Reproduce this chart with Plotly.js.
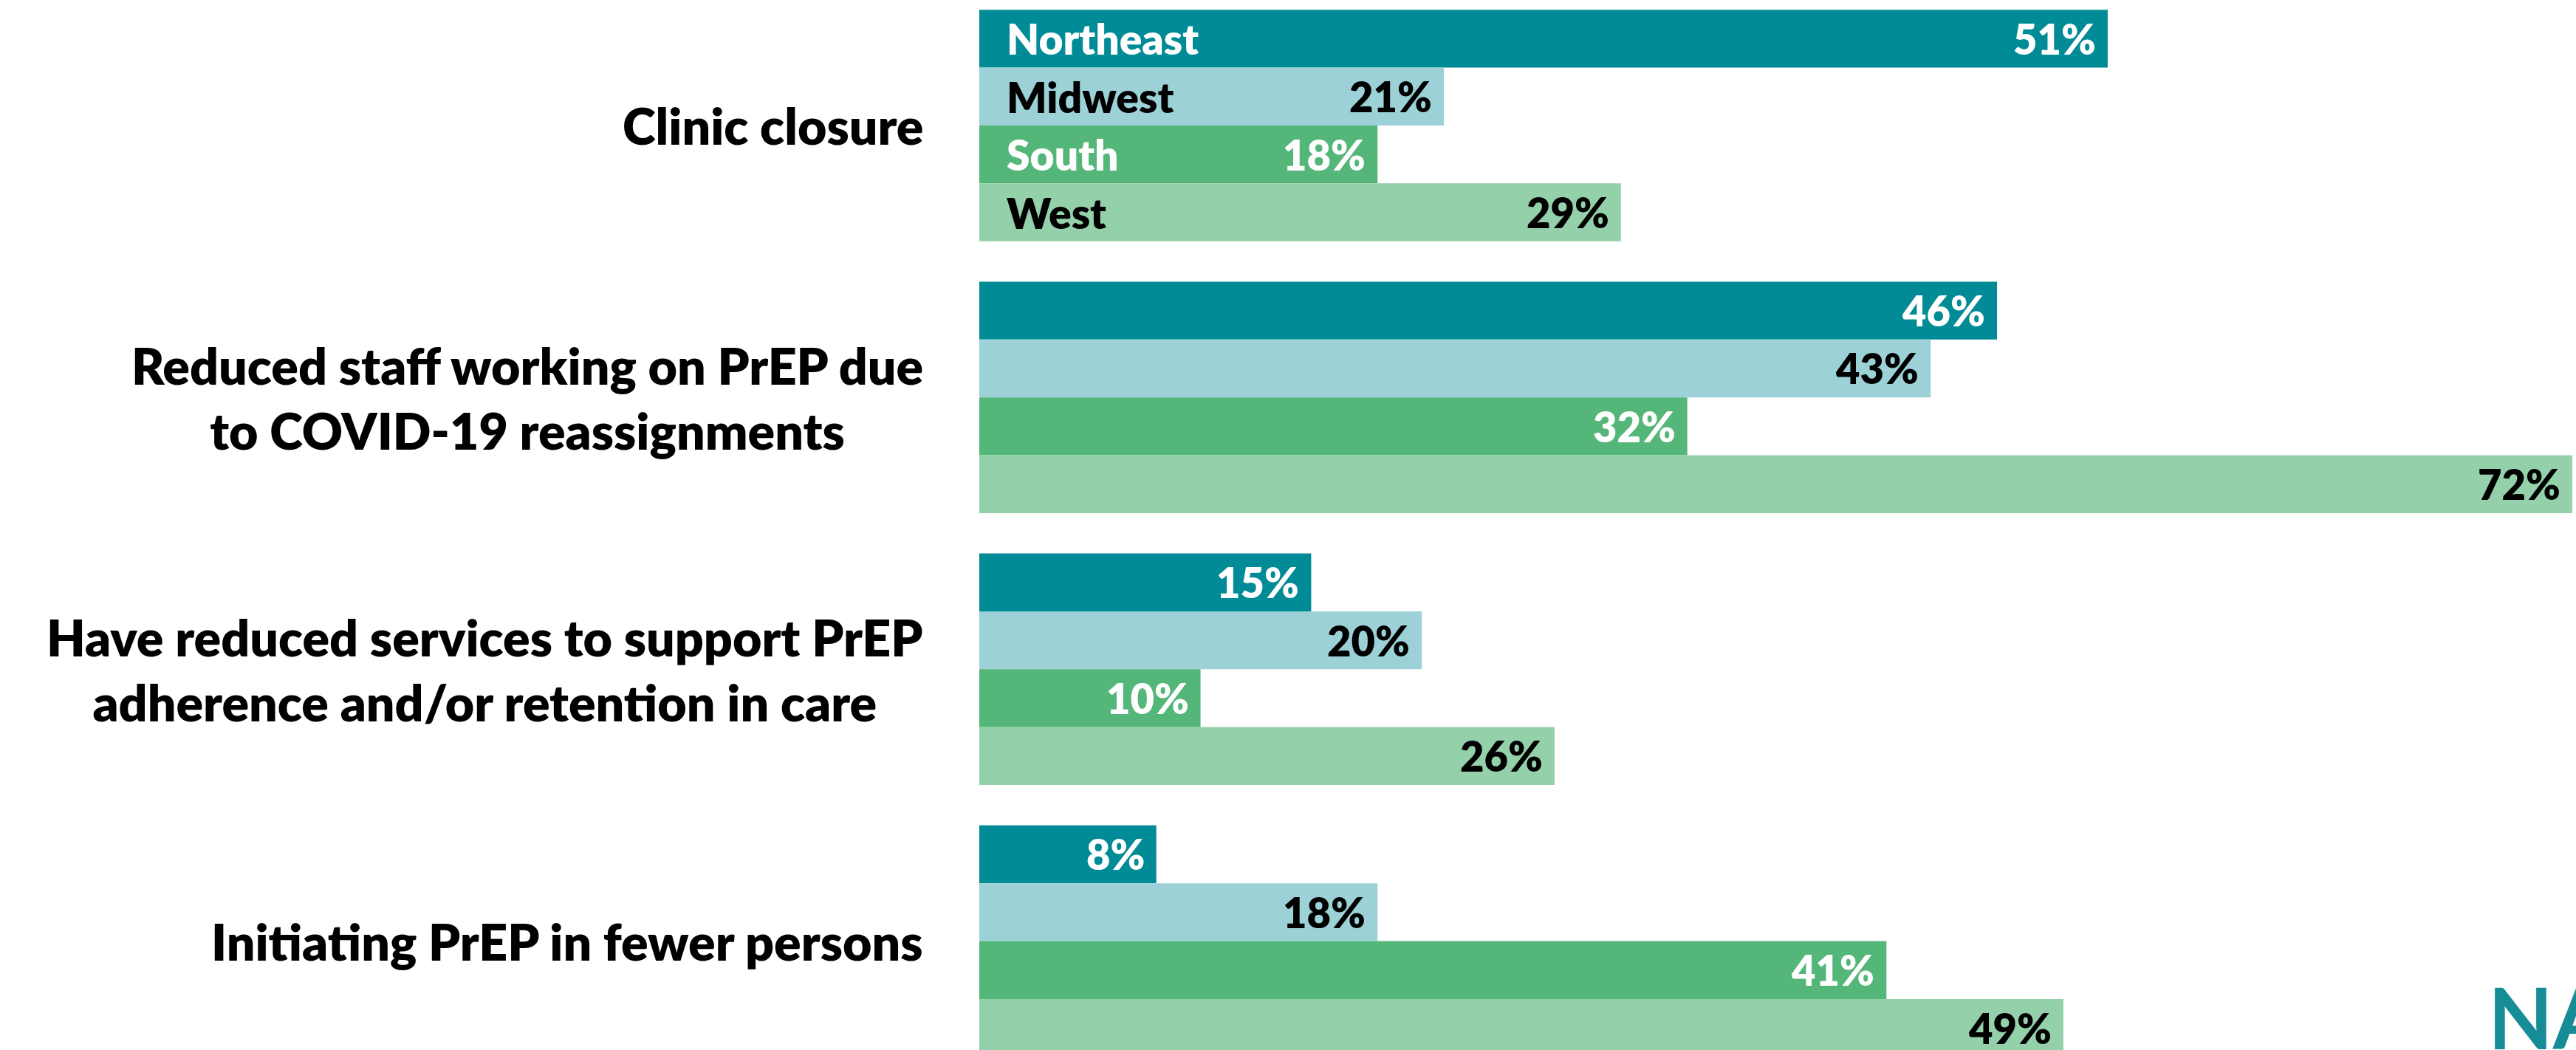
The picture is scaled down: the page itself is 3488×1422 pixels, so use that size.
<!DOCTYPE html>
<html>
<head>
<meta charset="utf-8">
<script src="https://cdn.plot.ly/plotly-3.0.1.min.js"></script>
<style>
html, body { margin: 0; padding: 0; background: #ffffff; overflow: hidden; }
#chart { width: 3488px; height: 1422px; }
</style>
</head>
<body>
<div id="chart"></div>
<script>
// ---- Data ----
const categories = [
  "Clinic closure",
  "Reduced staff working on PrEP due to COVID-19 reassignments",
  "Have reduced services to support PrEP adherence and/or retention in care",
  "Initiating PrEP in fewer persons"
];
const categoryLabels = [
  "Clinic closure",
  "Reduced staff working on PrEP due<br>to COVID-19 reassignments",
  "Have reduced services to support PrEP<br>adherence and/or retention in care",
  "Initiating PrEP in fewer persons"
];
const regions = ["Northeast", "Midwest", "South", "West"];
const northeast = [51, 46, 15, 8];
const midwest   = [21, 43, 20, 18];
const south     = [18, 32, 10, 41];
const west      = [29, 72, 26, 49];
const logoText = "NA";

// ---- Styles ----
const seriesValues = [northeast, midwest, south, west];
const barColors  = ["#008B96", "#9CD2D7", "#55B67A", "#94D0AA"];
const textColors = ["#FFFFFF", "#000000", "#FFFFFF", "#000000"];
const FONT = "Lato, 'Open Sans', sans-serif";

const W = 3488, H = 1422;
const marginL = 1326, marginR = 5;
const bargap = 0.1486;
const yRange = [3.4006, -0.4617];
const unitPx = H / (yRange[0] - yRange[1]);
const barPx = unitPx * (1 - bargap) / regions.length;

const traces = regions.map((r, i) => ({
  type: "bar",
  orientation: "h",
  name: r,
  x: seriesValues[i],
  y: categories,
  marker: { color: barColors[i], line: { width: 0 } },
  hoverinfo: "skip",
  showlegend: false
}));

const annotations = [];
// category labels (left)
categories.forEach((c, j) => {
  annotations.push({
    xref: "paper", yref: "y", x: 0, y: c,
    xanchor: "right", yanchor: "middle", xshift: -74,
    text: categoryLabels[j], showarrow: false, align: "center",
    font: { family: FONT, size: 68, color: "#000000", weight: 800 }
  });
});
// region names inside first group, and percentage labels at bar ends
regions.forEach((r, i) => {
  const ys = -(i - (regions.length - 1) / 2) * barPx;
  annotations.push({
    xref: "x", yref: "y", x: 0, y: categories[0],
    xanchor: "left", yanchor: "middle", xshift: 35, yshift: ys,
    text: r, showarrow: false,
    font: { family: FONT, size: 57, color: textColors[i], weight: 800 }
  });
  seriesValues[i].forEach((v, j) => {
    annotations.push({
      xref: "x", yref: "y", x: v, y: categories[j],
      xanchor: "right", yanchor: "middle", xshift: -14, yshift: ys,
      text: v + "%", showarrow: false,
      font: { family: FONT, size: 56, color: textColors[i], weight: 800 }
    });
  });
});
// partial logo at bottom right
annotations.push({
  xref: "paper", yref: "paper", x: 1, y: 0,
  xanchor: "left", yanchor: "middle", xshift: -116, yshift: 46,
  text: logoText, showarrow: false,
  font: { family: FONT, size: 114, color: "#168C96", weight: "bold" }
});

const layout = {
  width: W, height: H,
  margin: { l: marginL, r: marginR, t: 0, b: 0, pad: 0 },
  paper_bgcolor: "#ffffff", plot_bgcolor: "#ffffff",
  barmode: "group", bargap: bargap, bargroupgap: 0,
  showlegend: false,
  xaxis: { range: [0, 72], showgrid: false, zeroline: false, showticklabels: false, showline: false, ticks: "" },
  yaxis: { type: "category", range: yRange, showgrid: false, zeroline: false, showticklabels: false, showline: false, ticks: "" },
  annotations: annotations,
  font: { family: FONT }
};

Plotly.newPlot("chart", traces, layout, { displayModeBar: false, staticPlot: true });
</script>
</body>
</html>
